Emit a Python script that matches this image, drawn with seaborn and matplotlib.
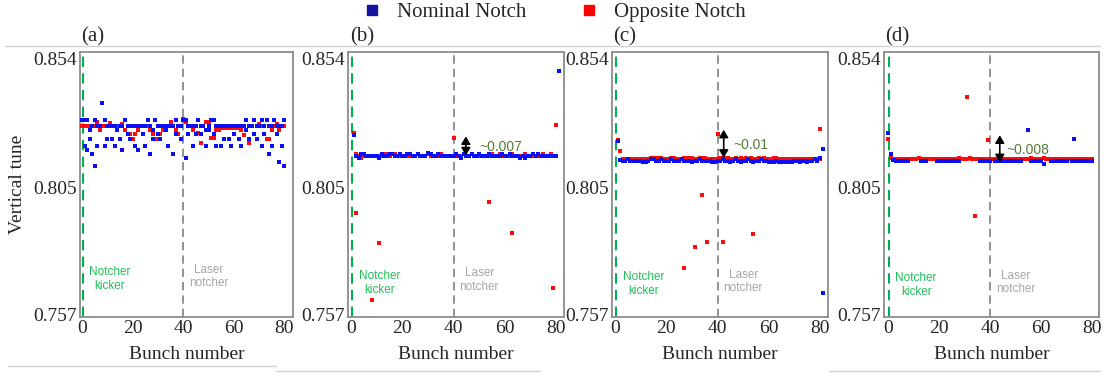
import numpy as np
import pandas as pd
import matplotlib.pyplot as plt
from matplotlib.lines import Line2D
import seaborn as sns

nan = np.nan

# ---- data : vertical tune per bunch (bunch 0..80) ----
bunches = list(range(81))

# (a) no laser notch
a_nom_line = [0.8307, 0.8307, 0.8307, 0.8269, 0.8285, 0.8307, 0.8285, 0.8285, 0.8372, 0.8307,
              0.8285, 0.8285, 0.8285, 0.8285, 0.8269, 0.8285, 0.8285, 0.8307, 0.8285, 0.8285,
              0.8285, 0.8285, 0.8285, 0.8285, 0.8285, 0.8285, 0.8307, 0.8285, 0.8269, 0.8307,
              0.8285, 0.8285, 0.8285, 0.8285, 0.8285, 0.8285, 0.8285, 0.8307, 0.8285, 0.8285,
              0.8307, 0.8307, 0.8285, 0.8285, 0.8285, 0.8285, 0.8307, 0.8285, 0.8285, 0.8269,
              0.8285, 0.8307, 0.8307, 0.8285, 0.8285, 0.8285, 0.8285, 0.8285, 0.8285, 0.8285,
              0.8285, 0.8285, 0.8285, 0.8285, 0.8285, 0.8307, 0.8285, 0.8285, 0.8307, 0.8285,
              0.8285, 0.8307, 0.8285, 0.8307, 0.8285, 0.8285, 0.8307, 0.8285, 0.8285, 0.8285,
              0.8307]
a_nom_extra_x = [1, 2, 3, 4, 5, 6, 9, 10, 12, 13, 15, 16, 18, 19, 21, 22,
                 24, 25, 27, 28, 30, 31, 33, 34, 36, 37, 39, 41, 42,
                 44, 45, 47, 49, 50, 52, 53, 55, 56, 58, 59, 60, 62, 63,
                 65, 66, 68, 69, 71, 72, 74, 75, 77, 78, 79, 80]
a_nom_extra_y = [0.8209, 0.8193, 0.8234, 0.8178, 0.8133, 0.8209, 0.8209, 0.8234,
                 0.8234, 0.8209, 0.8234, 0.8193, 0.8253, 0.8234, 0.8209, 0.8193,
                 0.8253, 0.8209, 0.8178, 0.8234, 0.8253, 0.8234,
                 0.8269, 0.8209, 0.8178, 0.8253, 0.8234, 0.8162, 0.8253,
                 0.8209, 0.8253, 0.8253, 0.8209, 0.8269, 0.8253,
                 0.8209, 0.8209, 0.8234, 0.8234, 0.8209, 0.8253, 0.8234, 0.8209,
                 0.8269, 0.8234, 0.8253, 0.8234, 0.8209, 0.8253,
                 0.8178, 0.8209, 0.8253, 0.8148, 0.8209, 0.8133]
a_opp_line = [0.8285, 0.8285, 0.8285, 0.8285, 0.8285, 0.8285, 0.8300, 0.8269, 0.8285, 0.8285,
              0.8285, 0.8296, 0.8285, 0.8285, 0.8285, 0.8285, 0.8290, 0.8269, 0.8253, 0.8253,
              0.8234, 0.8253, 0.8269, 0.8285, 0.8285, 0.8285, 0.8285, 0.8269, 0.8253, 0.8234,
              0.8234, 0.8253, 0.8269, 0.8285, 0.8285, 0.8300, 0.8285, 0.8269, 0.8253, 0.8285,
              0.8310, 0.8300, 0.8285, 0.8285, 0.8269, 0.8253, 0.8257, 0.8221, 0.8285, 0.8300,
              0.8300, 0.8238, 0.8238, 0.8269, 0.8269, 0.8275, 0.8275, 0.8275, 0.8275, 0.8275,
              0.8275, 0.8275, 0.8275, 0.8269, 0.8250, 0.8269, 0.8220, 0.8285, 0.8253, 0.8285,
              0.8290, 0.8285, 0.8285, 0.8234, 0.8235, 0.8269, 0.8285, 0.8290, 0.8269, 0.8285,
              0.8285]

# (b) laser notch
b_nom_line = [nan, 0.8249, 0.8170, 0.8162, 0.8178, 0.8178, 0.8170, 0.8170, 0.8170, 0.8170,
              0.8170, 0.8162, 0.8178, 0.8170, 0.8170, 0.8178, 0.8178, 0.8170, 0.8170, 0.8178,
              0.8170, 0.8170, 0.8178, 0.8178, 0.8170, 0.8170, 0.8178, 0.8170, 0.8170, 0.8170,
              0.8183, 0.8178, 0.8170, 0.8170, 0.8178, 0.8170, 0.8170, 0.8170, 0.8170, 0.8170,
              0.8170, 0.8178, 0.8170, 0.8162, 0.8178, 0.8170, 0.8170, 0.8178, 0.8170, 0.8170,
              0.8178, 0.8170, 0.8170, 0.8170, 0.8178, 0.8170, 0.8170, 0.8170, 0.8170, 0.8178,
              0.8170, 0.8170, 0.8178, 0.8170, 0.8170, 0.8170, 0.8162, 0.8170, 0.8162, 0.8170,
              0.8170, 0.8178, 0.8170, 0.8178, 0.8170, 0.8170, 0.8170, 0.8170, 0.8170, 0.8170,
              0.8170]
b_nom_extra_x = [81]
b_nom_extra_y = [0.8492]
b_opp_line = [nan, 0.8259, 0.8178, 0.8170, 0.8162, 0.8170, 0.8170, 0.8170, 0.8170, 0.8170,
              0.8170, 0.8170, 0.8170, 0.8178, 0.8178, 0.8170, 0.8178, 0.8178, 0.8170, 0.8170,
              0.8170, 0.8170, 0.8170, 0.8170, 0.8170, 0.8170, 0.8178, 0.8170, 0.8170, 0.8170,
              0.8178, 0.8170, 0.8170, 0.8170, 0.8170, 0.8178, 0.8170, 0.8170, 0.8170, 0.8170,
              0.8170, 0.8170, 0.8170, 0.8170, 0.8178, 0.8170, 0.8170, 0.8178, 0.8170, 0.8170,
              0.8170, 0.8170, 0.8170, 0.8170, 0.8170, 0.8178, 0.8170, 0.8170, 0.8178, 0.8170,
              0.8170, 0.8170, 0.8170, 0.8178, 0.8170, 0.8170, 0.8170, 0.8170, 0.8178, 0.8170,
              0.8170, 0.8170, 0.8170, 0.8170, 0.8170, 0.8178, 0.8170, 0.8170, 0.8178, 0.8170,
              0.8170]
b_opp_extra_x = [2, 8, 11, 40, 45, 54, 63, 79, 80]
b_opp_extra_y = [0.7955, 0.7625, 0.7840, 0.8239, 0.8192, 0.7995, 0.7878, 0.7673, 0.8287]

# (c) laser notch
c_nom_line = [nan, 0.8227, 0.8155, 0.8152, 0.8152, 0.8160, 0.8152, 0.8152, 0.8152, 0.8152,
              0.8152, 0.8147, 0.8147, 0.8152, 0.8160, 0.8160, 0.8152, 0.8152, 0.8160, 0.8152,
              0.8152, 0.8152, 0.8160, 0.8152, 0.8152, 0.8152, 0.8160, 0.8152, 0.8152, 0.8152,
              0.8147, 0.8152, 0.8152, 0.8160, 0.8152, 0.8152, 0.8152, 0.8152, 0.8147, 0.8147,
              0.8152, 0.8152, 0.8160, 0.8152, 0.8152, 0.8147, 0.8152, 0.8160, 0.8152, 0.8147,
              0.8152, 0.8152, 0.8160, 0.8152, 0.8147, 0.8152, 0.8152, 0.8160, 0.8152, 0.8152,
              0.8147, 0.8147, 0.8147, 0.8152, 0.8147, 0.8147, 0.8147, 0.8147, 0.8147, 0.8147,
              0.8152, 0.8152, 0.8147, 0.8152, 0.8152, 0.8147, 0.8152, 0.8152, 0.8160, 0.8152,
              0.8162]
c_nom_extra_x = [81, 81]
c_nom_extra_y = [0.8197, 0.7651]
c_opp_line = [nan, 0.8232, 0.8188, 0.8160, 0.8160, 0.8160, 0.8160, 0.8160, 0.8160, 0.8160,
              0.8160, 0.8160, 0.8160, 0.8160, 0.8165, 0.8165, 0.8165, 0.8165, 0.8165, 0.8160,
              0.8160, 0.8160, 0.8165, 0.8165, 0.8160, 0.8160, 0.8160, 0.8165, 0.8165, 0.8165,
              0.8165, 0.8160, 0.8160, 0.8165, 0.8165, 0.8165, 0.8160, 0.8160, 0.8160, 0.8160,
              0.8160, 0.8165, 0.8165, 0.8165, 0.8165, 0.8160, 0.8160, 0.8165, 0.8160, 0.8165,
              0.8160, 0.8165, 0.8160, 0.8165, 0.8160, 0.8160, 0.8165, 0.8160, 0.8165, 0.8160,
              0.8160, 0.8160, 0.8165, 0.8165, 0.8160, 0.8160, 0.8160, 0.8160, 0.8160, 0.8160,
              0.8160, 0.8160, 0.8160, 0.8160, 0.8160, 0.8160, 0.8160, 0.8160, 0.8160, 0.8160,
              0.8160]
c_opp_extra_x = [27, 31, 34, 36, 40, 42, 54, 80]
c_opp_extra_y = [0.7749, 0.7826, 0.8022, 0.7845, 0.8255, 0.7845, 0.7875, 0.8274]

# (d) laser notch
d_nom_line = [0.8257, 0.8179, 0.8155, 0.8150, 0.8150, 0.8150, 0.8150, 0.8150, 0.8150, nan,
              nan, nan, nan, 0.8150, 0.8150, 0.8150, nan, nan, nan, 0.8150,
              0.8150, 0.8150, 0.8150, 0.8150, 0.8150, 0.8150, 0.8150, 0.8150, 0.8150, nan,
              nan, nan, nan, nan, nan, nan, 0.8150, 0.8150, 0.8150, 0.8150,
              0.8150, nan, 0.8150, 0.8150, 0.8150, 0.8150, 0.8150, 0.8150, 0.8150, 0.8150,
              0.8150, 0.8150, 0.8150, nan, nan, nan, 0.8150, 0.8150, 0.8150, 0.8150,
              0.8150, 0.8139, nan, nan, 0.8150, 0.8150, 0.8150, 0.8150, 0.8150, 0.8150,
              0.8150, nan, 0.8150, 0.8150, 0.8150, 0.8150, 0.8150, 0.8150, 0.8150, 0.8150,
              0.8150]
d_nom_extra_x = [55, 73]
d_nom_extra_y = [0.8268, 0.8236]
d_opp_line = [0.8236, 0.8165, 0.8158, 0.8158, 0.8158, 0.8158, 0.8158, 0.8158, 0.8158, 0.8158,
              0.8158, 0.8158, 0.8163, 0.8158, 0.8158, 0.8158, 0.8158, 0.8158, 0.8158, 0.8158,
              0.8158, 0.8158, 0.8158, 0.8158, 0.8158, 0.8158, 0.8158, 0.8158, 0.8163, 0.8158,
              0.8158, 0.8158, 0.8163, 0.8158, 0.8158, 0.8158, 0.8158, 0.8158, 0.8158, 0.8158,
              0.8158, 0.8158, 0.8158, 0.8158, 0.8158, 0.8158, 0.8158, 0.8158, 0.8158, 0.8158,
              0.8158, 0.8158, 0.8158, 0.8158, 0.8158, 0.8158, 0.8163, 0.8158, 0.8158, 0.8158,
              0.8158, 0.8163, 0.8158, 0.8158, 0.8158, 0.8158, 0.8158, 0.8158, 0.8158, 0.8158,
              0.8158, 0.8158, 0.8158, 0.8158, 0.8158, 0.8158, 0.8158, 0.8158, 0.8158, 0.8158,
              0.8158]
d_opp_extra_x = [31, 34, 39]
d_opp_extra_y = [0.8393, 0.7945, 0.8230]

panel_labels = ['(a)', '(b)', '(c)', '(d)']
yticks = [0.757, 0.805, 0.854]
xticks = [0, 20, 40, 60, 80]
shift_text = ['', '~0.007', '~0.01', '~0.008']
shift_x = [nan, 44.8, 42.4, 43.8]
shift_lo = [nan, 0.8173, 0.8164, 0.8147]
shift_hi = [nan, 0.8245, 0.8270, 0.8249]
shift_text_x = [nan, 50, 46, 46.5]

BLUE = '#0a10f5'
RED = '#ff0a0a'

sns.set_theme(style='white')
plt.rcParams['font.family'] = ['Liberation Serif', 'DejaVu Serif']

fig = plt.figure(figsize=(11.04, 3.78), dpi=100)

W, H = 1104, 378
boxes = [(80, 293), (348, 564), (612, 828), (884, 1099)]
xlims = [(-0.8, 83.4), (-1.2, 83.1), (-1.2, 83.1), (-1.6, 82.7)]
label_x = [93, 362, 625, 897]
kicker_y = [0.7706, 0.7691, 0.7687, 0.7683]
laser_y = [0.7715, 0.7702, 0.7696, 0.7693]

panels = [
    (a_nom_line, a_nom_extra_x, a_nom_extra_y, a_opp_line, [], []),
    (b_nom_line, b_nom_extra_x, b_nom_extra_y, b_opp_line, b_opp_extra_x, b_opp_extra_y),
    (c_nom_line, c_nom_extra_x, c_nom_extra_y, c_opp_line, c_opp_extra_x, c_opp_extra_y),
    (d_nom_line, d_nom_extra_x, d_nom_extra_y, d_opp_line, d_opp_extra_x, d_opp_extra_y),
]

for i, (nom, nx, ny, opp, ox, oy) in enumerate(panels):
    l, r = boxes[i]
    ax = fig.add_axes([l / W, (H - 317) / H, (r - l) / W, (317 - 52) / H])

    nom_df = pd.DataFrame({'bunch': bunches + nx, 'tune': nom + ny}).dropna()
    opp_df = pd.DataFrame({'bunch': bunches + ox, 'tune': opp + oy}).dropna()

    sns.scatterplot(data=opp_df, x='bunch', y='tune', ax=ax, color=RED,
                    marker='s', s=6, linewidth=0, zorder=3)
    sns.scatterplot(data=nom_df, x='bunch', y='tune', ax=ax, color=BLUE,
                    marker='s', s=6, linewidth=0, zorder=3)

    ax.axvline(0.5, color='#00b050', ls=(0, (5, 3)), lw=1.5, zorder=2)
    ax.axvline(40, color='#808080', ls=(0, (5, 3)), lw=1.2, zorder=2)

    ax.set_xlim(*xlims[i])
    ax.set_ylim(0.7562, 0.8564)
    ax.set_xticks(xticks)
    ax.set_yticks(yticks)
    ax.set_yticklabels(['0.757', '0.805', '0.854'])
    ax.tick_params(direction='in', length=3, width=1, color='#808080',
                   labelsize=14, pad=2)
    for sp in ax.spines.values():
        sp.set_color('#8c8c8c')
        sp.set_linewidth(1.3)

    ax.set_xlabel('Bunch number', fontsize=14)
    ax.xaxis.set_label_coords(0.5, -0.11)
    if i == 0:
        ax.set_ylabel('Vertical tune', fontsize=14)
        ax.yaxis.set_label_coords(-0.254, 0.5)
    else:
        ax.set_ylabel('')

    ax.text(11, kicker_y[i], 'Notcher\nkicker', color='#22c05a', fontsize=8.5,
            ha='center', va='center', family=['Liberation Sans'], linespacing=1.15)
    ax.text(50, laser_y[i], 'Laser\nnotcher', color='#a6a6a6', fontsize=8.5,
            ha='center', va='center', family=['Liberation Sans'], linespacing=1.15)

    if i > 0:
        ax.annotate('', xy=(shift_x[i], shift_hi[i]), xytext=(shift_x[i], shift_lo[i]),
                    arrowprops=dict(arrowstyle='<|-|>,head_length=0.5,head_width=0.3',
                                    color='black', lw=1.2, mutation_scale=9,
                                    shrinkA=0, shrinkB=0), zorder=5)
        ax.text(shift_text_x[i], (shift_lo[i] + shift_hi[i]) / 2 - 0.0005, shift_text[i],
                color='#557a38', fontsize=10, ha='left', va='center',
                family=['Liberation Sans'])

    fig.text(label_x[i] / W, 1 - 37 / H, panel_labels[i], fontsize=15,
             ha='center', va='center')

# frame remnants of the composite figure
fig.add_artist(Line2D([5 / W, 1100 / W], [1 - 46 / H, 1 - 46 / H], color='#d4d4d4', lw=1))
fig.add_artist(Line2D([8 / W, 276 / W], [1 - 366 / H, 1 - 366 / H], color='#d4d4d4', lw=1))
fig.add_artist(Line2D([276 / W, 540 / W], [1 - 370.5 / H, 1 - 370.5 / H], color='#d4d4d4', lw=1))
fig.add_artist(Line2D([829 / W, 1100 / W], [1 - 370.5 / H, 1 - 370.5 / H], color='#d4d4d4', lw=1))

# legend
handles = [Line2D([], [], marker='s', ls='', color='#1414a0', markersize=7.5),
           Line2D([], [], marker='s', ls='', color='#ff0000', markersize=7.5)]
fig.legend(handles, ['Nominal Notch', 'Opposite Notch'], loc='center',
           bbox_to_anchor=(556 / W, 1 - 12 / H), ncol=2, frameon=False, fontsize=15,
           handlelength=0.6, handletextpad=0.9, columnspacing=2.7, borderpad=0)

fig.savefig('out.png', dpi=100)
